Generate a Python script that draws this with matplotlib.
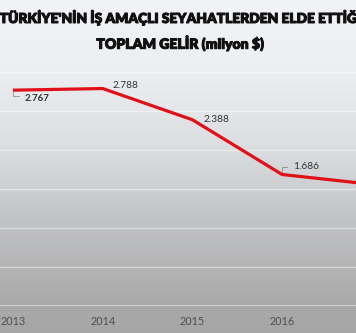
import numpy as np
import matplotlib
matplotlib.use("Agg")
import matplotlib.pyplot as plt
import matplotlib.patheffects as pe
from matplotlib.colors import LinearSegmentedColormap

# veri (milyon $)
years = [2013, 2014, 2015, 2016, 2017]
income = [2767, 2788, 2388, 1686, 1560]
# 2017 etiketi ve yili resmin disinda kaliyor
labels = ["2.767", "2.788", "2.388", "1.686"]
tick_years = [2013, 2014, 2015, 2016]

plt.rcParams["font.family"] = ["Lato", "DejaVu Sans"]

W, H = 356, 333
fig = plt.figure(figsize=(W / 100, H / 100), dpi=100)

# arka plan gradyani
bg = fig.add_axes([0, 0, 1, 1], zorder=0)
cmap = LinearSegmentedColormap.from_list(
    "bg",
    [(0.0, "#f2f3f6"), (0.22, "#eceef1"), (0.45, "#dadcdf"),
     (0.68, "#c0c1c3"), (0.92, "#a9a9a9"), (1.0, "#a6a6a6")],
)
grad = np.linspace(0, 1, 256).reshape(-1, 1)
bg.imshow(grad, aspect="auto", cmap=cmap, extent=[0, 1, 0, 1], origin="upper")
bg.set_axis_off()

# grafik alani
px_per_year = 89.7
x0 = 13
left = years[0] - x0 / px_per_year
right = years[0] + (W - x0) / px_per_year
ax = fig.add_axes([0, (H - 306) / H, 1, (306 - 72) / H], zorder=1)
ax.patch.set_alpha(0)
ax.set_xlim(left, right)
ax.set_ylim(0, 3000)

for v in range(500, 3001, 500):
    ax.axhline(v, color="white", alpha=0.45, lw=1.0, zorder=1)
ax.axhline(0, color="#dcdcdc", lw=1.2, zorder=1)

ax.plot(years, income, color="#e0101a", lw=2.3, solid_capstyle="butt",
        solid_joinstyle="miter", zorder=3)

# veri etiketleri
offsets = [(8, -6), (7, 2), (8, 0), (8, 6)]
for x, y, s, (dx, dy) in zip(years, income, labels, offsets):
    bold = x == 2013
    ax.annotate(s, (x, y), xytext=(dx, dy), textcoords="offset points",
                ha="left", va="center", fontsize=7.0 if bold else 7.3,
                color="#333333", fontweight="bold" if bold else "normal")

# kilavuz cizgileri
ax.plot([2013, 2013, 2013 + 6 / px_per_year], [2767 - 20, 2767 - 80, 2767 - 80],
        color="#8c8c8c", lw=0.6, zorder=2)
ax.plot([2016, 2016, 2016 + 5 / px_per_year], [1686 + 30, 1686 + 90, 1686 + 90],
        color="#8c8c8c", lw=0.6, zorder=2)

ax.set_xticks(tick_years)
ax.set_xticklabels([str(t) for t in tick_years])
ax.tick_params(axis="x", length=0, pad=7, labelsize=7.8, labelcolor="#505050")
ax.set_yticks([])
for sp in ax.spines.values():
    sp.set_visible(False)

# baslik
thick = [pe.withStroke(linewidth=0.7, foreground="#111111")]
fig.text(181 / W, 1 - 17 / H, "TÜRKİYE'NİN İŞ AMAÇLI SEYAHATLERDEN ELDE ETTİĞİ",
         ha="center", va="center", fontsize=9.9, fontweight="heavy",
         color="#111111", path_effects=thick)
fig.text(180 / W, 1 - 43 / H, "TOPLAM GELİR (milyon $)",
         ha="center", va="center", fontsize=10.1, fontweight="heavy",
         color="#111111", path_effects=thick)

fig.savefig("out.png", dpi=100)
